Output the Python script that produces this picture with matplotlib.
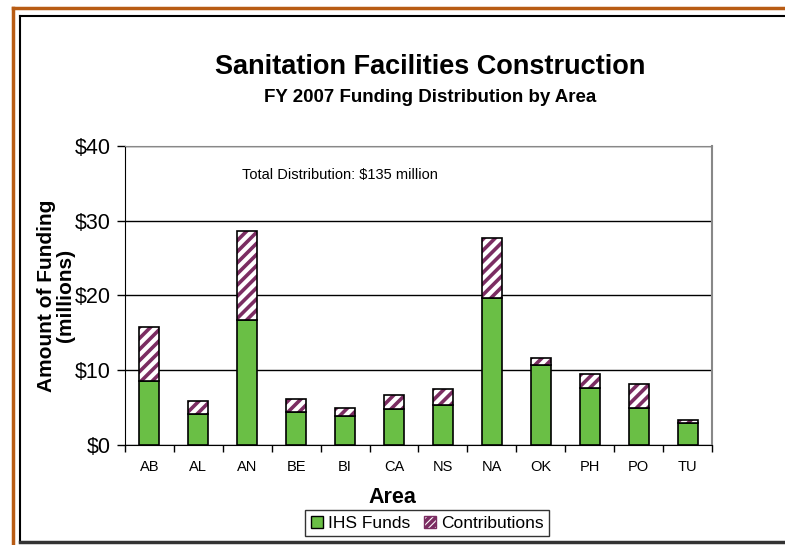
import matplotlib.pyplot as plt
import numpy as np
from matplotlib.lines import Line2D
from matplotlib.patches import Patch

areas = ["AB", "AL", "AN", "BE", "BI", "CA", "NS", "NA", "OK", "PH", "PO", "TU"]
ihs_funds = [8.5, 4.1, 16.7, 4.4, 3.9, 4.8, 5.3, 19.7, 10.7, 7.6, 4.9, 2.9]
contributions = [7.3, 1.8, 11.9, 1.7, 1.0, 1.9, 2.2, 8.0, 0.9, 1.9, 3.2, 0.4]
yticks = [0, 10, 20, 30, 40]

green = "#6abf45"
maroon = "#7b2d62"

plt.rcParams['font.family'] = ['Liberation Sans', 'DejaVu Sans']
plt.rcParams['hatch.linewidth'] = 2.6
plt.rcParams['hatch.color'] = maroon

fig = plt.figure(figsize=(7.85, 5.45), dpi=100)
ax = fig.add_axes([0.1592, 0.1835, 0.7478, 0.5486])

x = np.arange(len(areas))
w = 0.41
ax.bar(x, ihs_funds, w, color=green, edgecolor="black", linewidth=1.2, zorder=3)
# hatched part first, then the black outline on top
ax.bar(x, contributions, w, bottom=ihs_funds, color="white", edgecolor=maroon,
       hatch="///", linewidth=0, zorder=3)
ax.bar(x, contributions, w, bottom=ihs_funds, fill=False, edgecolor="black",
       linewidth=1.2, zorder=4)

ax.set_xlim(-0.5, len(areas) - 0.5)
ax.set_ylim(0, 40)
ax.set_yticks(yticks)
ax.set_yticklabels(["$%d" % v for v in yticks], fontsize=15.5)
ax.set_xticks(x)
ax.set_xticklabels(areas, fontsize=10.5)
ax.set_xticks(np.arange(len(areas) + 1) - 0.5, minor=True)
ax.tick_params(axis="x", which="major", length=0, pad=11)
ax.tick_params(axis="x", which="minor", length=5, width=1, direction="out")
ax.tick_params(axis="y", length=6, width=1, direction="out", pad=4)
ax.grid(axis="y", color="black", linewidth=1, zorder=0)
ax.spines["top"].set_color("#888888")
ax.spines["right"].set_color("#888888")
ax.spines["right"].set_linewidth(1.5)

ax.set_ylabel("Amount of Funding\n(millions)", fontsize=15, fontweight="bold",
              labelpad=0, linespacing=1.0)

ax.text(0.2, 0.89, "Total Distribution: $135 million", transform=ax.transAxes,
        fontsize=10.5)

fig.text(0.548, 0.877, "Sanitation Facilities Construction", ha="center",
         va="center", fontsize=19.5, fontweight="bold")
fig.text(0.548, 0.822, "FY 2007 Funding Distribution by Area", ha="center",
         va="center", fontsize=13.5, fontweight="bold")
fig.text(0.4995, 0.088, "Area", ha="center", va="center", fontsize=15.5,
         fontweight="bold")

handles = [Patch(facecolor=green, edgecolor="black", linewidth=1),
           Patch(facecolor="white", edgecolor=maroon, hatch="/////", linewidth=1)]
leg = fig.legend(handles, ["IHS Funds", "Contributions"], loc="center",
                 bbox_to_anchor=(0.5445, 0.04), ncol=2, fontsize=12.5,
                 frameon=True, fancybox=False, handlelength=0.7,
                 handleheight=0.7, handletextpad=0.3, columnspacing=0.8,
                 borderpad=0.3, borderaxespad=0)
leg.get_frame().set_edgecolor("black")
leg.get_frame().set_linewidth(1)

# page frame
fig.add_artist(Line2D([0.0166, 0.0166], [0, 0.985], color="#b85c14", lw=2.5))
fig.add_artist(Line2D([0.0166, 1], [0.985, 0.985], color="#b85c14", lw=2.5))
fig.add_artist(Line2D([0.0255, 0.0255], [0.005, 0.971], color="black", lw=1.5))
fig.add_artist(Line2D([0.0255, 1], [0.971, 0.971], color="black", lw=1.5))
fig.add_artist(Line2D([0.0255, 1], [0.005, 0.005], color="#333333", lw=2.5))

fig.savefig("out.png", dpi=100)
